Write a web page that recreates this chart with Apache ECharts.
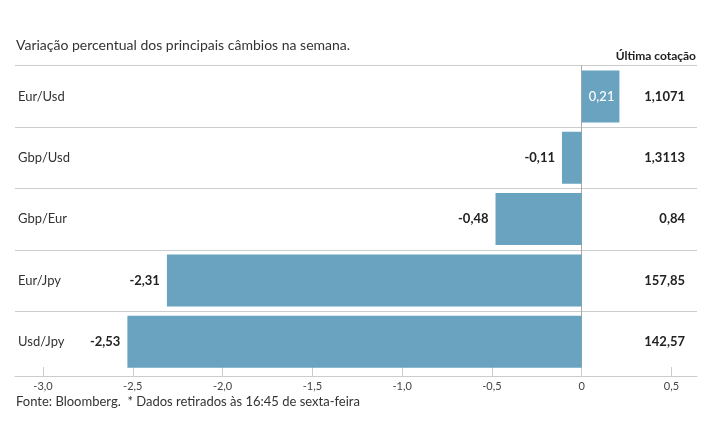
<!DOCTYPE html>
<html><head><meta charset="utf-8">
<script src="https://cdn.jsdelivr.net/npm/echarts@6/dist/echarts.min.js"></script>
<style>html,body{margin:0;padding:0;background:#fff}#c{width:715px;height:445px}</style>
</head><body><div id="c"></div>
<script>
var categories = ['Eur/Usd', 'Gbp/Usd', 'Gbp/Eur', 'Eur/Jpy', 'Usd/Jpy'];
var variation = [0.21, -0.11, -0.48, -2.31, -2.53];
var quotes = ['1,1071', '1,3113', '0,84', '157,85', '142,57'];
var xTicks = {min: -3, max: 0.5, interval: 0.5};
var titleText = 'Variação percentual dos principais câmbios na semana.';
var quoteHeader = 'Última cotação';
var sourceText = 'Fonte: Bloomberg.  * Dados retirados às 16:45 de sexta-feira';

var FONT = 'Lato';
function fmt(v, d) { return v.toFixed(d).replace('.', ','); }
function tickFmt(v) { return v === 0 ? '0' : fmt(v, 1); }

var barData = variation.map(function (v) {
  return {
    value: v,
    label: v >= 0
      ? {show: true, position: 'insideRight', distance: 5, color: '#fff', fontSize: 13, fontWeight: 500, fontFamily: FONT, formatter: function (p) { return fmt(p.value, 2); }}
      : {show: true, position: 'left', distance: 7, color: '#222', fontWeight: 'bold', fontSize: 13, fontFamily: FONT, formatter: function (p) { return fmt(p.value, 2); }}
  };
});

var chart = echarts.init(document.getElementById('c'), null, {renderer: 'canvas'});
chart.setOption({
  animation: false,
  textStyle: {fontFamily: FONT},
  title: [
    {text: titleText, left: 11, top: 33, textStyle: {fontSize: 14, fontWeight: 'normal', color: '#333', fontFamily: FONT}},
    {text: quoteHeader, right: 14, top: 45, textStyle: {fontSize: 12, fontWeight: 'bold', color: '#222', fontFamily: FONT}},
    {text: sourceText, left: 11, top: 390, textStyle: {fontSize: 13, fontWeight: 'normal', color: '#333', fontFamily: FONT}}
  ],
  grid: [
    {left: 15, right: 18, top: 65.7, bottom: 72.5},
    {left: 43, right: 43.5, top: 65.7, bottom: 72.5}
  ],
  xAxis: [
    {gridIndex: 0, type: 'value', min: 0, max: 1, offset: 3.5,
     axisLine: {show: true, lineStyle: {color: '#ccc', width: 1}},
     axisTick: {show: false}, axisLabel: {show: false}, splitLine: {show: false}},
    {gridIndex: 1, type: 'value', min: xTicks.min, max: xTicks.max, interval: xTicks.interval, offset: 3.5,
     axisLine: {show: false},
     axisTick: {show: true, inside: true, length: 9, lineStyle: {color: '#ccc'}},
     axisLabel: {show: true, margin: 5, fontSize: 11, color: '#444', fontFamily: FONT, formatter: tickFmt},
     splitLine: {show: false}}
  ],
  yAxis: [
    {gridIndex: 0, type: 'category', data: categories, inverse: true,
     axisLine: {show: false}, axisTick: {show: false},
     axisLabel: {show: true, inside: true, margin: 3, fontSize: 13, color: '#333', fontFamily: FONT, padding: [0, 0, 3, 0]},
     splitLine: {show: true, showMaxLine: false, lineStyle: {color: '#ccc', width: 1}}},
    {gridIndex: 0, type: 'category', data: quotes, inverse: true, position: 'right',
     axisLine: {show: false}, axisTick: {show: false},
     axisLabel: {show: true, inside: true, margin: 12, fontSize: 13, fontWeight: 'bold', color: '#222', fontFamily: FONT},
     splitLine: {show: false}},
    {gridIndex: 1, type: 'category', data: categories, inverse: true,
     axisLine: {show: true, onZero: true, lineStyle: {color: '#aaa', width: 1}},
     axisTick: {show: false}, axisLabel: {show: false}, splitLine: {show: false}}
  ],
  series: [{
    type: 'bar', xAxisIndex: 1, yAxisIndex: 2,
    data: barData, barWidth: 52,
    itemStyle: {color: '#69a3bf'}
  }]
});
</script></body></html>
